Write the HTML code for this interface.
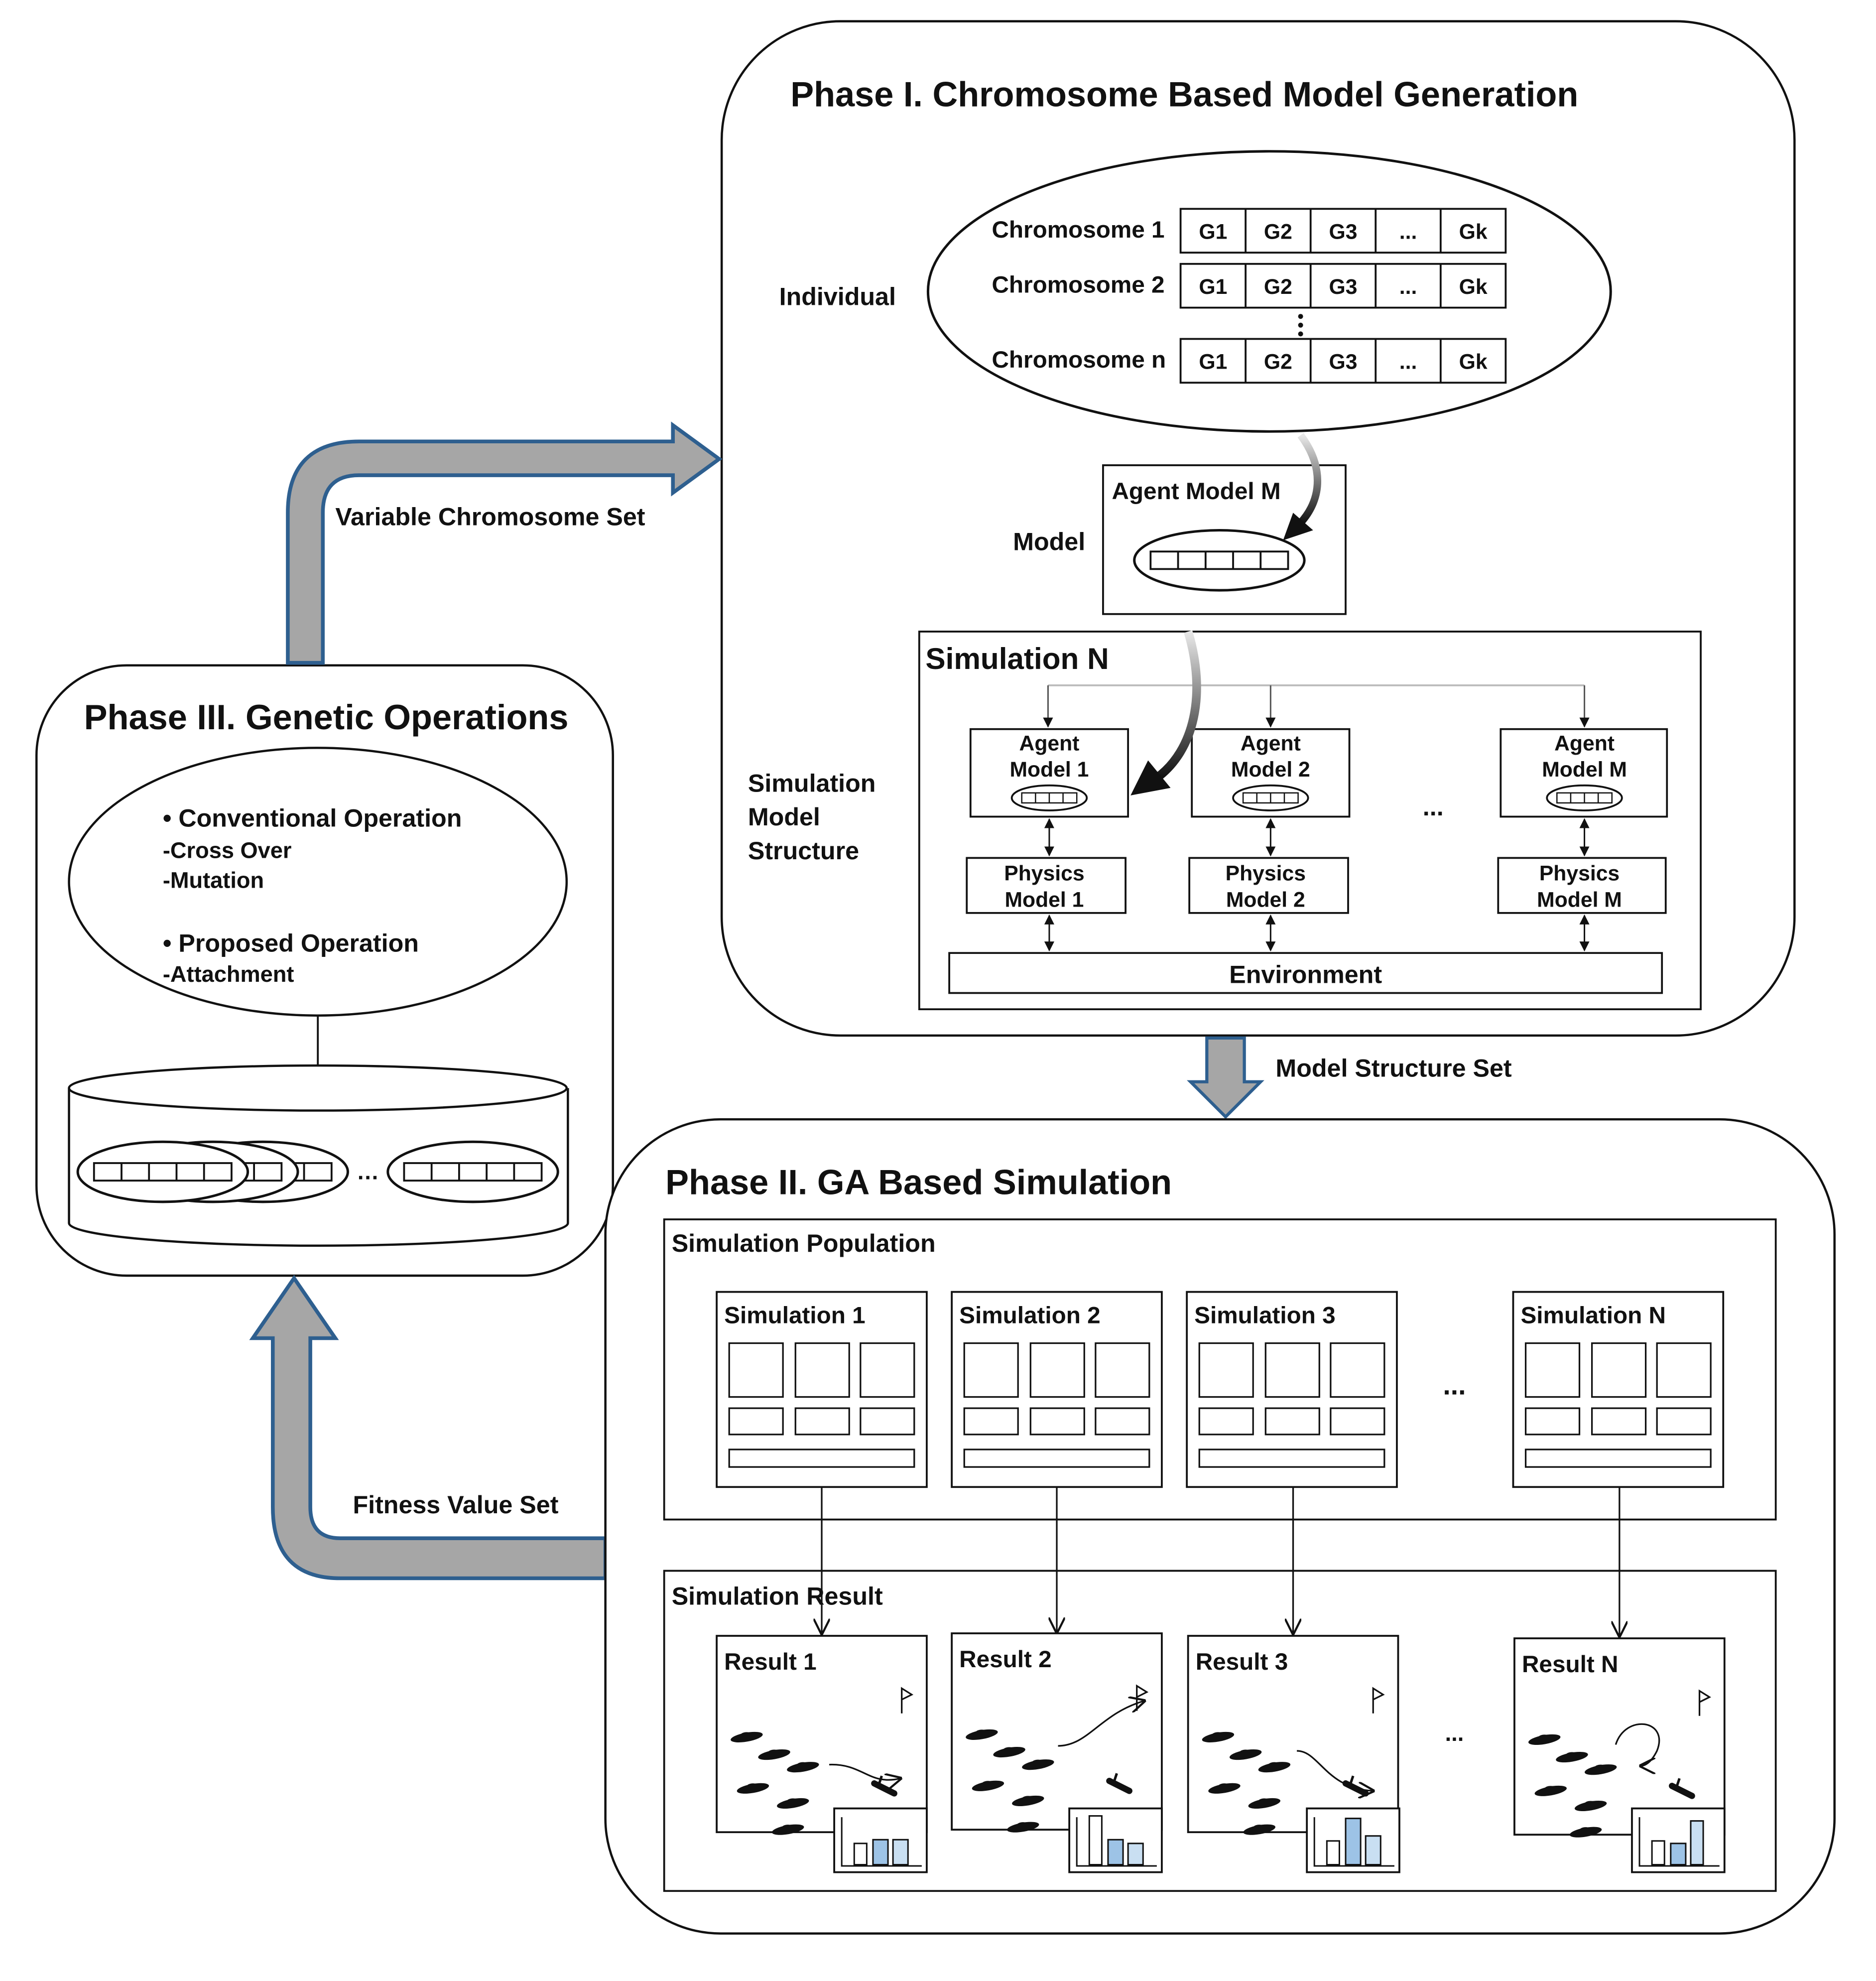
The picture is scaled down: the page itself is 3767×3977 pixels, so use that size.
<!DOCTYPE html>
<html><head><meta charset="utf-8"><style>html,body{margin:0;padding:0;background:#fff}svg{display:block}text{font-family:"Liberation Sans",sans-serif;font-weight:bold;fill:#111}</style></head>
<body>
<svg width="3767" height="3977" viewBox="0 0 1500 1584" xmlns="http://www.w3.org/2000/svg">
<defs>
<linearGradient id="cg" x1="0" y1="0" x2="0" y2="1"><stop offset="0" stop-color="#e8e8e8"/><stop offset="1" stop-color="#111"/></linearGradient>
<marker id="ah" viewBox="0 0 10 10" refX="9" refY="5" markerUnits="userSpaceOnUse" markerWidth="13" markerHeight="13" orient="auto-start-reverse"><path d="M0,0 L10,5 L0,10" fill="none" stroke="#111" stroke-width="1.3"/></marker>
<marker id="sa" viewBox="0 0 10 10" refX="9" refY="5" markerUnits="userSpaceOnUse" markerWidth="8" markerHeight="8" orient="auto-start-reverse"><path d="M0,0 L10,5 L0,10z" fill="#111"/></marker>
<g id="chr">
<rect x="0" y="0" width="260" height="35" fill="#fff" stroke="#111" stroke-width="1.5"/>
<path d="M52,0V35M104,0V35M156,0V35M208,0V35" stroke="#111" stroke-width="1.5"/>
</g>
<g id="mini">
<ellipse cx="0" cy="0" rx="30" ry="10" fill="#fff" stroke="#111" stroke-width="1.5"/>
<rect x="-22" y="-4" width="44" height="8" fill="#fff" stroke="#111"/>
<path d="M-11,-4V4M0,-4V4M11,-4V4" stroke="#111"/>
</g>
<g id="dbl">
<ellipse cx="0" cy="0" rx="68" ry="24" fill="#fff" stroke="#111" stroke-width="2"/>
<rect x="-55" y="-7" width="110" height="14" fill="#fff" stroke="#111" stroke-width="1.5"/>
<path d="M-33,-7V7M-11,-7V7M11,-7V7M33,-7V7" stroke="#111" stroke-width="1.5"/>
</g>
<g id="sim">
<rect x="0" y="0" width="168" height="156" fill="#fff" stroke="#111" stroke-width="1.5"/>
<rect x="10" y="41" width="43" height="43" fill="#fff" stroke="#111" stroke-width="1.3"/>
<rect x="63" y="41" width="43" height="43" fill="#fff" stroke="#111" stroke-width="1.3"/>
<rect x="115" y="41" width="43" height="43" fill="#fff" stroke="#111" stroke-width="1.3"/>
<rect x="10" y="93" width="43" height="21" fill="#fff" stroke="#111" stroke-width="1.3"/>
<rect x="63" y="93" width="43" height="21" fill="#fff" stroke="#111" stroke-width="1.3"/>
<rect x="115" y="93" width="43" height="21" fill="#fff" stroke="#111" stroke-width="1.3"/>
<rect x="10" y="126" width="148" height="14" fill="#fff" stroke="#111" stroke-width="1.3"/>
</g>
<g id="fish"><ellipse cx="0" cy="0" rx="13" ry="3.6" transform="rotate(-10)" fill="#111"/><ellipse cx="0" cy="-1.5" rx="5" ry="2.5" fill="#111"/></g>
<g id="res">
<rect x="0" y="0" width="168" height="157" fill="#fff" stroke="#111" stroke-width="1.5"/>
<use href="#fish" x="24" y="81"/><use href="#fish" x="46" y="95"/><use href="#fish" x="69" y="105"/>
<use href="#fish" x="29" y="122"/><use href="#fish" x="61" y="134"/><use href="#fish" x="57" y="155"/>
<path d="M148,62V42L156,47L148,51" fill="none" stroke="#111" stroke-width="1.3"/>
<path d="M126,118 L142,126" stroke="#111" stroke-width="5" stroke-linecap="round"/>
<path d="M130,118 L132,112" stroke="#111" stroke-width="2"/>
</g>
<g id="chart">
<rect x="0" y="0" width="74" height="51" fill="#fff" stroke="#111" stroke-width="1.5"/>
<path d="M6,7V46H70" fill="none" stroke="#111" stroke-width="1.2"/>
</g>
</defs>

<!-- Phase I -->
<rect x="577" y="17" width="858" height="811" rx="95" fill="#fff" stroke="#111" stroke-width="1.8"/>
<text x="632" y="85" font-size="28">Phase I. Chromosome Based Model Generation</text>
<ellipse cx="1015" cy="233" rx="273" ry="112" fill="#fff" stroke="#111" stroke-width="2"/>
<text x="623" y="244" font-size="20">Individual</text>
<text x="793" y="190" font-size="19">Chromosome 1</text>
<text x="793" y="234" font-size="19">Chromosome 2</text>
<text x="793" y="294" font-size="19">Chromosome n</text>
<use href="#chr" x="944" y="167"/><use href="#chr" x="944" y="211"/><use href="#chr" x="944" y="271"/>
<g font-size="17" text-anchor="middle">
<text x="970" y="191">G1</text><text x="1022" y="191">G2</text><text x="1074" y="191">G3</text><text x="1126" y="191">...</text><text x="1178" y="191">Gk</text>
<text x="970" y="235">G1</text><text x="1022" y="235">G2</text><text x="1074" y="235">G3</text><text x="1126" y="235">...</text><text x="1178" y="235">Gk</text>
<text x="970" y="295">G1</text><text x="1022" y="295">G2</text><text x="1074" y="295">G3</text><text x="1126" y="295">...</text><text x="1178" y="295">Gk</text>
</g>
<circle cx="1040" cy="253" r="2" fill="#111"/><circle cx="1040" cy="260" r="2" fill="#111"/><circle cx="1040" cy="267" r="2" fill="#111"/>
<rect x="882" y="372" width="194" height="119" fill="#fff" stroke="#111" stroke-width="1.5"/>
<text x="889" y="399" font-size="19">Agent Model M</text>
<text x="810" y="440" font-size="20">Model</text>
<use href="#dbl" x="975" y="448"/>
<path d="M1040,348 C1058,372 1058,398 1040,418" fill="none" stroke="url(#cg)" stroke-width="6"/>
<path d="M1026,432 L1034,410 L1050,424 Z" fill="#111"/>
<rect x="735" y="505" width="625" height="302" fill="#fff" stroke="#111" stroke-width="1.5"/>
<text x="740" y="535" font-size="24">Simulation N</text>
<path d="M838,548H1267" stroke="#bbb" stroke-width="1.5"/>
<g stroke="#555" stroke-width="1.2" marker-end="url(#sa)">
<path d="M838,548V581"/><path d="M1016,548V581"/><path d="M1267,548V581"/>
</g>
<g fill="#fff" stroke="#111" stroke-width="1.5">
<rect x="776" y="583" width="126" height="70"/><rect x="953" y="583" width="126" height="70"/><rect x="1200" y="583" width="133" height="70"/>
<rect x="773" y="686" width="127" height="44"/><rect x="951" y="686" width="127" height="44"/><rect x="1198" y="686" width="134" height="44"/>
<rect x="759" y="762" width="570" height="32"/>
</g>
<g font-size="17" text-anchor="middle">
<text x="839" y="600">Agent</text><text x="839" y="621">Model 1</text>
<text x="1016" y="600">Agent</text><text x="1016" y="621">Model 2</text>
<text x="1267" y="600">Agent</text><text x="1267" y="621">Model M</text>
<text x="835" y="704">Physics</text><text x="835" y="725">Model 1</text>
<text x="1012" y="704">Physics</text><text x="1012" y="725">Model 2</text>
<text x="1263" y="704">Physics</text><text x="1263" y="725">Model M</text>
<text x="1044" y="786" font-size="20">Environment</text>
<text x="1146" y="652" font-size="20">...</text>
</g>
<use href="#mini" x="839" y="638"/><use href="#mini" x="1016" y="638"/><use href="#mini" x="1267" y="638"/>
<g stroke="#111" stroke-width="1.2" marker-start="url(#sa)" marker-end="url(#sa)">
<path d="M839,655V684"/><path d="M1016,655V684"/><path d="M1267,655V684"/>
<path d="M839,732V760"/><path d="M1016,732V760"/><path d="M1267,732V760"/>
</g>
<text x="598" y="633" font-size="20">Simulation</text>
<text x="598" y="660" font-size="20">Model</text>
<text x="598" y="687" font-size="20">Structure</text>
<path d="M950,505 C965,555 955,600 925,622" fill="none" stroke="url(#cg)" stroke-width="7"/>
<path d="M904,636 L918,608 L936,630 Z" fill="#111"/>

<!-- Phase III -->
<rect x="29" y="532" width="461" height="488" rx="72" fill="#fff" stroke="#111" stroke-width="1.8"/>
<text x="67" y="583" font-size="28">Phase III. Genetic Operations</text>
<ellipse cx="254" cy="705" rx="199" ry="107" fill="#fff" stroke="#111" stroke-width="1.8"/>
<g font-size="20">
<text x="130" y="661">•  Conventional Operation</text>
<text x="130" y="686" font-size="18">-Cross Over</text>
<text x="130" y="710" font-size="18">-Mutation</text>
<text x="130" y="761">•  Proposed Operation</text>
<text x="130" y="785" font-size="18">-Attachment</text>
</g>
<path d="M254,812V854" stroke="#111" stroke-width="1.5"/>
<path d="M55,870 V978 A199,18 0 0 0 454,978 V870" fill="#fff" stroke="#111" stroke-width="1.8"/>
<ellipse cx="254" cy="870" rx="199" ry="18" fill="#fff" stroke="#111" stroke-width="1.8"/>
<use href="#dbl" x="210" y="937"/><use href="#dbl" x="170" y="937"/><use href="#dbl" x="130" y="937"/><use href="#dbl" x="378" y="937"/>
<text x="294" y="943" font-size="18" text-anchor="middle">…</text>

<!-- big arrows -->
<path d="M230,530 V410 Q230,353 287,353 H538 V340 L575,367 L538,394 V380 H287 Q258,380 258,410 V530 Z" fill="#a6a6a6" stroke="#2e5f8f" stroke-width="3"/>
<text x="268" y="420" font-size="20">Variable Chromosome Set</text>
<path d="M965,830 H995 V865 H1008 L980,893 L952,865 H965 Z" fill="#a6a6a6" stroke="#2e5f8f" stroke-width="2.5"/>
<text x="1020" y="861" font-size="20">Model Structure Set</text>
<path d="M484,1230 H272 Q248,1230 248,1205 V1070 H268 L235,1022 L202,1070 H218 V1205 Q218,1262 272,1262 H484 Z" fill="#a6a6a6" stroke="#2e5f8f" stroke-width="3"/>
<text x="282" y="1210" font-size="20">Fitness Value Set</text>

<!-- Phase II -->
<rect x="484" y="895" width="983" height="651" rx="92" fill="#fff" stroke="#111" stroke-width="1.8"/>
<text x="532" y="955" font-size="28">Phase II. GA Based Simulation</text>
<rect x="531" y="975" width="889" height="240" fill="#fff" stroke="#111" stroke-width="1.5"/>
<text x="537" y="1001" font-size="20">Simulation Population</text>
<use href="#sim" x="573" y="1033"/><use href="#sim" x="761" y="1033"/><use href="#sim" x="949" y="1033"/><use href="#sim" x="1210" y="1033"/>
<g font-size="19"><text x="579" y="1058">Simulation 1</text><text x="767" y="1058">Simulation 2</text><text x="955" y="1058">Simulation 3</text><text x="1216" y="1058">Simulation N</text></g>
<text x="1163" y="1115" font-size="22" text-anchor="middle">...</text>
<rect x="531" y="1256" width="889" height="256" fill="#fff" stroke="#111" stroke-width="1.5"/>
<use href="#res" x="573" y="1308"/><use href="#res" x="761" y="1306"/><use href="#res" x="950" y="1308"/><use href="#res" x="1211" y="1310"/>
<g fill="none" stroke="#111" stroke-width="1.3">
<path d="M663,1411 C690,1410 695,1428 720,1422" marker-end="url(#ah)"/>
<path d="M846,1396 C870,1396 880,1370 915,1360" marker-end="url(#ah)"/>
<path d="M1037,1400 C1055,1400 1060,1430 1098,1432" marker-end="url(#ah)"/>
<path d="M1292,1395 C1300,1370 1335,1375 1325,1400 C1320,1410 1315,1412 1312,1412" marker-end="url(#ah)"/>
</g>
<g stroke="#111" stroke-width="1.3" marker-end="url(#ah)">
<path d="M657,1189V1306"/><path d="M845,1189V1305"/><path d="M1034,1189V1306"/><path d="M1295,1189V1308"/>
</g>
<text x="537" y="1283" font-size="20">Simulation Result</text>
<g font-size="19"><text x="579" y="1335">Result 1</text><text x="767" y="1333">Result 2</text><text x="956" y="1335">Result 3</text><text x="1217" y="1337">Result N</text></g>
<text x="1163" y="1392" font-size="18" text-anchor="middle">...</text>
<use href="#chart" x="667" y="1446"/><use href="#chart" x="855" y="1446"/><use href="#chart" x="1045" y="1446"/><use href="#chart" x="1305" y="1446"/>
<g stroke="#111" stroke-width="1.2">
<rect x="683" y="1474" width="10" height="17" fill="#fff"/><rect x="698" y="1471" width="12" height="20" fill="#9dc3e6"/><rect x="714" y="1471" width="12" height="20" fill="#c9dff2"/>
<rect x="871" y="1452" width="10" height="39" fill="#fff"/><rect x="886" y="1471" width="12" height="20" fill="#9dc3e6"/><rect x="902" y="1474" width="12" height="17" fill="#c9dff2"/>
<rect x="1061" y="1472" width="10" height="19" fill="#fff"/><rect x="1076" y="1454" width="12" height="37" fill="#9dc3e6"/><rect x="1092" y="1468" width="12" height="23" fill="#c9dff2"/>
<rect x="1321" y="1472" width="10" height="19" fill="#fff"/><rect x="1336" y="1474" width="12" height="17" fill="#9dc3e6"/><rect x="1352" y="1456" width="10" height="35" fill="#c9dff2"/>
</g>
</svg>
</body></html>
